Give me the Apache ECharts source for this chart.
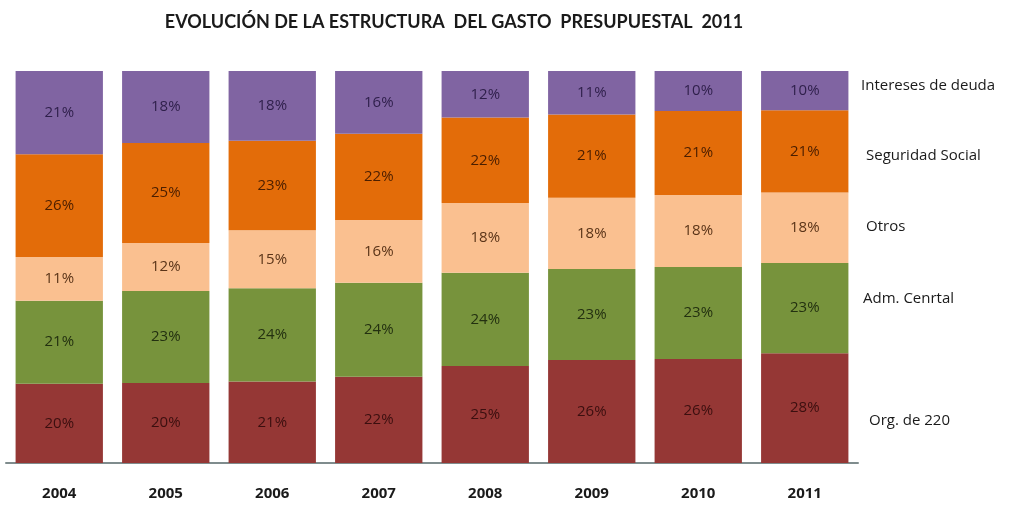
<!DOCTYPE html>
<html>
<head>
<meta charset="utf-8">
<script src="https://cdn.jsdelivr.net/npm/echarts@6/dist/echarts.min.js"></script>
<style>
  html, body { margin: 0; padding: 0; background: #ffffff; }
  #chart { width: 1010px; height: 505px; }
</style>
</head>
<body>
<div id="chart"></div>
<script>
// Budget expenditure structure by year (percent shares)
const years = ['2004', '2005', '2006', '2007', '2008', '2009', '2010', '2011'];
const orgDe220 = [20, 20, 21, 22, 25, 26, 26, 28];
const admCentral = [21, 23, 24, 24, 24, 23, 23, 23];
const otros = [11, 12, 15, 16, 18, 18, 18, 18];
const seguridadSocial = [26, 25, 23, 22, 22, 21, 21, 21];
const interesesDeuda = [21, 18, 18, 16, 12, 11, 10, 10];

const seriesDefs = [
  { name: 'Org. de 220', values: orgDe220, color: '#953735', text: '#3b0f0f' },
  { name: 'Adm. Cenrtal', values: admCentral, color: '#77933C', text: '#233010' },
  { name: 'Otros', values: otros, color: '#FAC090', text: '#5a3418' },
  { name: 'Seguridad Social', values: seguridadSocial, color: '#E36C09', text: '#4a1e00' },
  { name: 'Intereses de deuda', values: interesesDeuda, color: '#8064A2', text: '#2e1f4a' }
];

// Each column is a 100% stack: shares are scaled by the column total
const totals = years.map((_, i) => seriesDefs.reduce((s, d) => s + d.values[i], 0));

const chart = echarts.init(document.getElementById('chart'));
const font = '"Open Sans", Lato, sans-serif';

chart.setOption({
  animation: false,
  backgroundColor: '#ffffff',
  title: {
    text: 'EVOLUCIÓN DE LA ESTRUCTURA  DEL GASTO  PRESUPUESTAL  2011',
    left: 449, top: 8, textAlign: 'center',
    textStyle: { fontFamily: 'Lato, sans-serif', fontSize: 18, fontWeight: 'bold', color: '#1a1a1a' }
  },
  grid: { left: 6, right: 152, top: 71, bottom: 42 },
  xAxis: {
    type: 'category',
    data: years,
    axisTick: { show: false },
    axisLine: { lineStyle: { color: '#7f8c8d', width: 2 } },
    axisLabel: { margin: 23, fontFamily: font, fontSize: 15, fontWeight: 'bold', color: '#1a1a1a' }
  },
  yAxis: { type: 'value', min: 0, max: 100, show: false, splitLine: { show: false } },
  series: seriesDefs.map(d => ({
    name: d.name,
    type: 'bar',
    stack: 'total',
    barCategoryGap: '18%',
    data: d.values.map((v, i) => ({ value: v / totals[i] * 100, raw: v })),
    itemStyle: { color: d.color },
    label: {
      show: true,
      position: 'inside',
      formatter: p => p.data.raw + '%',
      fontFamily: font, fontSize: 15, color: d.text
    }
  })),
  graphic: [
    { type: 'text', left: 861, top: 78, style: { text: 'Intereses de deuda', font: '15px ' + font, fill: '#1a1a1a' } },
    { type: 'text', left: 866, top: 148, style: { text: 'Seguridad Social', font: '15px ' + font, fill: '#1a1a1a' } },
    { type: 'text', left: 866, top: 219, style: { text: 'Otros', font: '15px ' + font, fill: '#1a1a1a' } },
    { type: 'text', left: 863, top: 291, style: { text: 'Adm. Cenrtal', font: '15px ' + font, fill: '#1a1a1a' } },
    { type: 'text', left: 869, top: 413, style: { text: 'Org. de 220', font: '15px ' + font, fill: '#1a1a1a' } }
  ]
});
</script>
</body>
</html>
